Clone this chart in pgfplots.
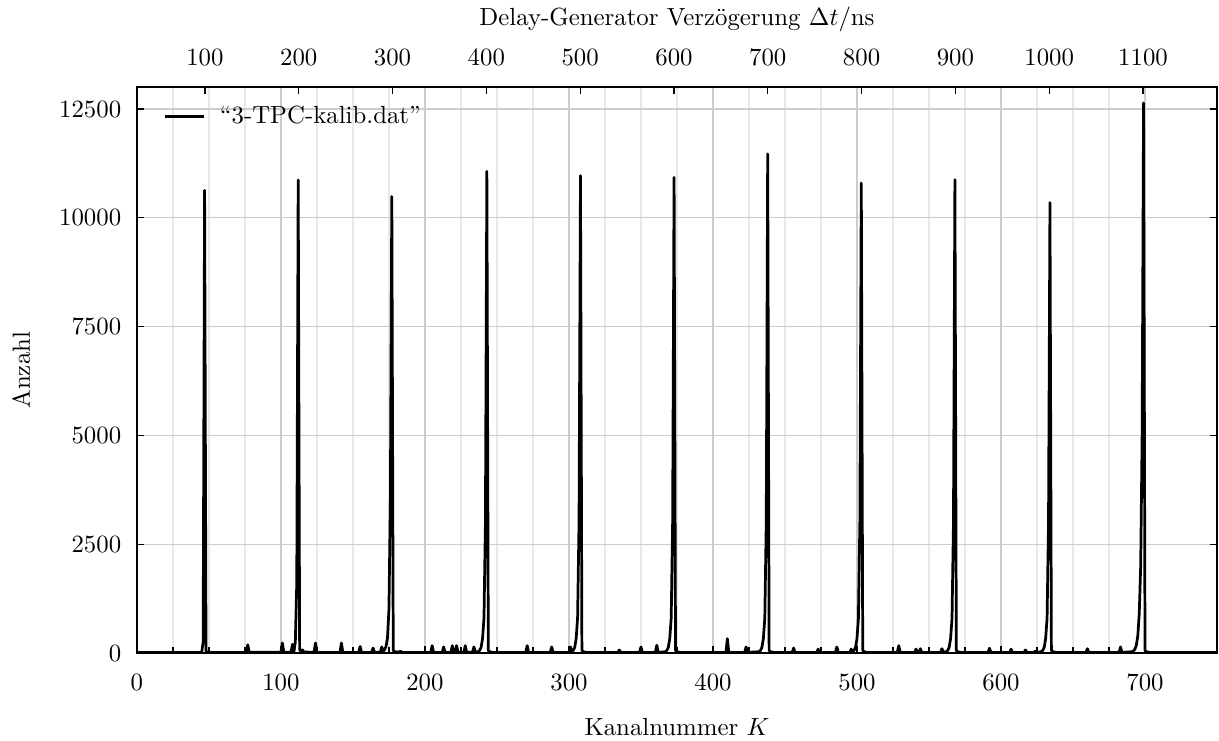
\documentclass[border=0pt]{standalone}
\usepackage{fontspec}
\usepackage{pgfplots}
\pgfplotsset{compat=1.18}

\begin{document}
\begin{tikzpicture}
\pgfplotsset{
  calib/.style={
    width=435.5pt, height=228.1pt, scale only axis,
    tick align=inside,
    major tick length=2.8pt, minor tick length=2.6pt,
    every tick/.style={black, line width=0.5pt},
    axis line style={line width=0.7pt},
    /pgf/number format/1000 sep={},
  },
}
% counts per channel
\begin{axis}[calib,
  xmin=0, xmax=750, ymin=0, ymax=13000,
  xtick={0,100,...,700}, minor x tick num=3,
  ytick={0,2500,...,12500},
  xtick pos=left, ytick pos=both, yticklabel pos=left,
  scaled y ticks=false,
  xmajorgrids, xminorgrids, ymajorgrids,
  major grid style={color=black!20, line width=0.5pt},
  minor grid style={color=black!9, line width=0.5pt},
  xticklabel style={yshift=-5pt},
  yticklabel style={xshift=-2.8pt},
  xlabel={Kanalnummer $K$},
  ylabel={Anzahl},
  xlabel style={at={(axis description cs:0.5,-0.1451)}, anchor=base},
  ylabel style={at={(axis description cs:-0.099,0.5)}, anchor=base},
  legend image code/.code={\draw[#1] (0pt,0pt) -- (15.7pt,0pt);},
  legend style={draw=none, fill=none, at={(axis description cs:0.0241,0.948)},
    anchor=west, inner sep=0pt, nodes={inner sep=0pt}, column sep=6pt},
]
\addplot[black, line width=1.1pt, line join=round] coordinates {
(0,15) (45,15) (46,250) (47,10630) (48,40) (49,15)
(76,15) (77,190) (78,15)
(100,20) (101,230) (102,20)
(107,15) (108,200) (109,25) (110,250) (111,1600) (112,10870) (113,70) (114,45) (115,70) (116,25)
(123,15) (124,230) (125,15)
(141,15) (142,230) (143,15)
(154,15) (155,150) (156,15)
(163,15) (164,115) (165,20)
(169,20) (170,140) (171,40) (172,80) (173,150) (174,350) (175,1000) (176,3500) (177,10490) (178,60) (179,30) (182,20) (183,45) (184,15)
(204,15) (205,170) (206,15)
(212,15) (213,140) (214,15)
(218,15) (219,170) (220,20) (221,30) (222,170) (223,15)
(227,15) (228,170) (229,20)
(233,15) (234,140) (235,30)
(237,30) (238,60) (239,130) (240,330) (241,800) (242,3000) (243,11070) (244,60) (245,30) (247,15)
(270,15) (271,170) (272,15)
(287,15) (288,140) (289,15)
(300,15) (301,140) (302,30)
(303,60) (304,130) (305,330) (306,800) (307,3000) (308,10970) (309,60) (310,30) (312,15)
(334,15) (335,70) (336,15)
(349,15) (350,140) (351,15)
(360,15) (361,180) (362,15)
(367,30) (368,60) (369,130) (370,330) (371,800) (372,3000) (373,10930) (374,60) (375,30) (377,15)
(409,15) (410,330) (411,15)
(422,15) (423,140) (424,15)
(432,30) (433,60) (434,130) (435,330) (436,800) (437,3000) (438,11470) (439,60) (440,30) (442,15)
(455,15) (456,115) (457,15)
(472,15) (473,90) (474,15)
(485,15) (486,140) (487,15)
(495,15) (496,90) (497,30)
(498,60) (499,130) (500,330) (501,800) (502,3000) (503,10800) (504,60) (505,30) (507,15)
(528,15) (529,170) (530,15)
(540,15) (541,90) (542,15) (543,20) (544,100) (545,15)
(558,15) (559,100) (560,20)
(562,30) (563,60) (564,130) (565,330) (566,800) (567,3000) (568,10880) (569,60) (570,30) (572,15)
(591,15) (592,110) (593,15)
(606,15) (607,90) (608,15)
(616,15) (617,70) (618,15)
(623,15) (624,50) (625,20)
(628,30) (629,60) (630,130) (631,330) (632,800) (633,3000) (634,10350) (635,60) (636,30) (638,15)
(659,15) (660,100) (661,15)
(682,15) (683,140) (684,15)
(691,30) (692,50) (693,90) (694,180) (695,400) (696,900) (697,2000) (698,5000) (699,12640) (700,60) (701,30) (703,15)
(750,15)
};
\addlegendentry{``3-TPC-kalib.dat''}
\coordinate (sw) at (rel axis cs:0,0);
\coordinate (ne) at (rel axis cs:1,1);
\end{axis}
% delay generator scale on top
\begin{axis}[calib,
  xmin=27.5, xmax=1178.9, ymin=0, ymax=1,
  axis x line*=top, axis y line=none,
  xtick={100,200,...,1100},
  xticklabel style={yshift=5.3pt},
  xlabel={Delay-Generator Verzögerung $\Delta t/\mathrm{ns}$},
  xlabel style={at={(axis description cs:0.5,1.110)}, anchor=base},
]
\end{axis}
\pgfresetboundingbox
\path[use as bounding box] ([xshift=-55.2pt,yshift=-35.1pt]sw) rectangle ([xshift=0.8pt,yshift=35.2pt]ne);
\end{tikzpicture}
\end{document}
